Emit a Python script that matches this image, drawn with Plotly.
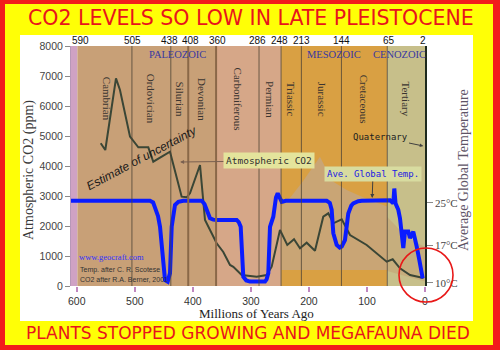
import plotly.graph_objects as go

# ---------------- data ----------------
co2_myr = [558.8, 550.9, 532.5, 525.6, 508.3, 494.0, 476.8, 468.2, 453.7, 439.4, 419.3, 410.6, 405.0,
           387.7, 379.1, 370.5, 359.0, 347.6, 336.0, 330.3, 315.9, 290.0, 272.8, 264.2, 249.9, 237.3,
           225.7, 215.4, 203.9, 189.6, 175.3, 166.6, 158.0, 143.5, 129.2, 100.5, 66.0, 55.7, 43.1,
           25.8, 5.7, 2.6]
co2_ppm = [4757, 4533, 6923, 6533, 4977, 4623, 4623, 4143, 4310, 4477, 2977, 2957, 3090,
           4033, 2200, 1867, 1423, 1133, 700, 640, 367, 310, 367, 643, 1867, 1367,
           1557, 1257, 1443, 1177, 2310, 2423, 2090, 2223, 1700, 1367, 810, 890, 590,
           367, 277, 267]

temp_myr = [610, 473.9, 468.5, 465.3, 460.0, 456.6, 452.0, 448.0, 443.4, 439.4, 436.5, 433.0, 430.8,
            425.0, 416.5, 384.8, 380.0, 376.2, 370.5, 365.0, 359.0, 324.5, 321.0, 317.6, 315.9,
            313.1, 308.0, 301.6, 275.7, 273.0, 270.0, 267.1, 261.4, 256.8, 253.8, 249.9, 246.9,
            240.0, 169.4, 164.0, 160.8, 158.0, 152.2, 147.0, 143.5, 137.9, 132.2, 127.0, 123.6,
            115.0, 109.1, 60.3, 54.6, 52.9, 50.8, 46.0, 43.1, 37.4, 34.5, 28.8, 25.8, 20.2, 17.2,
            14.3, 9.8, 5.7, 4.0]
temp_c = [25.4, 25.4, 25.1, 24.3, 22.5, 20.5, 14.9, 10.5, 10.2, 11.8, 20.5, 23.6, 24.6,
          25.2, 25.4, 25.4, 24.8, 23.7, 22.1, 21.85, 21.8, 21.8, 21.4, 20.5, 14.9,
          11.1, 10.4, 10.2, 10.2, 10.6, 11.8, 20.5, 22.4, 26.0, 26.8, 26.0, 25.2,
          25.4, 25.4, 25.0, 23.7, 19.3, 17.1, 16.6, 16.8, 18.0, 23.0, 24.5, 24.9,
          25.3, 25.4, 25.5, 24.9, 27.7, 24.9, 23.7, 22.1, 16.5, 19.6, 19.6, 18.4, 19.6, 18.3,
          16.8, 14.3, 11.1, 10.8]

# uncertainty band (Mesozoic / Cenozoic shading)
meso_band_myr = [248, 230, 210, 181, 160, 135, 100, 65, 65, 248]
meso_band_ppm = [2650, 3000, 3500, 4310, 3500, 3200, 2900, 2650, 530, 530]
ceno_band_myr = [65, 40, 20, 0, 0, 65]
ceno_band_ppm = [2300, 1800, 1500, 1300, 150, 500]

period_names = ['Cambrian', 'Ordovician', 'Silurian', 'Devonian', 'Carboniferous', 'Permian',
                'Triassic', 'Jurassic', 'Cretaceous', 'Tertiary']
period_start = [590, 505, 438, 408, 360, 286, 248, 213, 144, 65]
period_end = [505, 438, 408, 360, 286, 248, 213, 144, 65, 2]
top_ticks = [590, 505, 438, 408, 360, 286, 248, 213, 144, 65, 2]
era_names = ['PALEOZOIC', 'MESOZOIC', 'CENOZOIC']
era_start = [590, 248, 65]
era_end = [248, 65, 0]
bg_edges = [610, 599, 360, 248, 65, 0]

x_ticks = [600, 500, 400, 300, 200, 100, 0]
co2_ticks = [0, 1000, 2000, 3000, 4000, 5000, 6000, 7000, 8000]
temp_ticks = [10, 17, 25]
temp_tick_text = ['10°C', '17°C', '25°C']

# ---------------- layout helpers ----------------
L, R, T, B = 71, 425, 46, 286
def px_x(p):
    return (p - L) / (R - L)
def px_y(p):
    return (B - p) / (B - T)

SERIF = 'Liberation Serif, Times New Roman, serif'
SANS = 'Liberation Sans, Arial, sans-serif'
MONO = 'DejaVu Sans Mono, monospace'

fig = go.Figure()

# uncertainty band polygons
fig.add_trace(go.Scatter(x=meso_band_myr, y=meso_band_ppm, fill='toself', mode='none',
                         fillcolor='#c9a575', hoverinfo='skip', showlegend=False))
fig.add_trace(go.Scatter(x=ceno_band_myr, y=ceno_band_ppm, fill='toself', mode='none',
                         fillcolor='rgba(196,160,115,0.55)', hoverinfo='skip', showlegend=False))

# CO2 curve
fig.add_trace(go.Scatter(x=co2_myr, y=co2_ppm, mode='lines',
                         line=dict(color='#3a4636', width=2), showlegend=False))
# Temperature curve
fig.add_trace(go.Scatter(x=temp_myr, y=temp_c, mode='lines', yaxis='y2',
                         line=dict(color='#0a1cff', width=4), showlegend=False))

shapes = []
# outer yellow and white panels
shapes.append(dict(type='rect', xref='paper', yref='paper', x0=px_x(5), x1=px_x(493),
                   y0=px_y(345), y1=px_y(4), fillcolor='#ffff06', line=dict(width=0), layer='below'))
shapes.append(dict(type='rect', xref='paper', yref='paper', x0=px_x(20), x1=px_x(473),
                   y0=px_y(321), y1=px_y(35), fillcolor='white', line=dict(width=0), layer='below'))
# background bands
bg_colors = ['#cfa2c4', '#c8a077', '#d6a788', '#d9a043', '#c7bf8a']
for i, c in enumerate(bg_colors):
    shapes.append(dict(type='rect', xref='x', yref='y', x0=bg_edges[i], x1=bg_edges[i + 1],
                       y0=0, y1=8000, fillcolor=c, line=dict(width=0), layer='below'))
# period boundary lines
thick = {408, 360}
for b in period_start[1:]:
    shapes.append(dict(type='line', xref='x', yref='y', x0=b, x1=b, y0=0, y1=8000,
                       line=dict(color='#8a6848' if b in thick else '#4e4436',
                                 width=2 if b in thick else 0.8),
                       layer='above'))
# red circle
shapes.append(dict(type='circle', xref='paper', yref='paper', x0=px_x(399), x1=px_x(453),
                   y0=px_y(302), y1=px_y(248), line=dict(color='#e81818', width=1.6),
                   layer='above'))

ann = []
ann.append(dict(text='CO2 LEVELS SO LOW IN LATE PLEISTOCENE', xref='paper', yref='paper',
                x=px_x(251), y=px_y(18), showarrow=False,
                font=dict(family='DejaVu Sans', size=20.5, color='#e8141c')))
ann.append(dict(text='PLANTS STOPPED GROWING AND MEGAFAUNA DIED', xref='paper', yref='paper',
                x=px_x(248), y=px_y(333), showarrow=False,
                font=dict(family='DejaVu Sans', size=17, color='#e8141c')))
# axis titles
ann.append(dict(text='Atmospheric CO2 (ppm)', xref='paper', yref='paper', x=px_x(29), y=px_y(170),
                textangle=-90, showarrow=False, font=dict(family=SERIF, size=14, color='#3a3a3a')))
ann.append(dict(text='Average Global Temperature', xref='paper', yref='paper', x=px_x(463),
                y=px_y(170), textangle=-90, showarrow=False,
                font=dict(family=SERIF, size=14, color='#5e5466')))
ann.append(dict(text='Millions of Years Ago', xref='paper', yref='paper', x=px_x(256), y=px_y(313),
                showarrow=False, font=dict(family=SERIF, size=13, color='#222')))
# top tick labels
top_shift = {590: -2, 505: 1, 438: -1, 408: 2, 360: 1, 286: -2, 248: -2, 213: 0, 144: 0, 65: 2, 2: -1}
for v in top_ticks:
    ann.append(dict(text=str(v), xref='x', yref='paper', x=v, y=px_y(40), xshift=top_shift[v],
                    showarrow=False, font=dict(family=SANS, size=10, color='#111')))
# period labels
for n, s, e in zip(period_names, period_start, period_end):
    ann.append(dict(text=n, xref='x', yref='y', x=(s + e) / 2, y=6230, textangle=90,
                    showarrow=False, font=dict(family=SERIF, size=11, color='#3a3430')))
# era labels
era_shift = [-4, 0, -7]
for n, s, e, sh in zip(era_names, era_start, era_end, era_shift):
    ann.append(dict(text=n, xref='x', yref='y', x=(s + e) / 2, y=7730, xshift=sh,
                    showarrow=False, font=dict(family=SERIF, size=10.5, color='#3838a0')))
# in-plot notes
ann.append(dict(text='Estimate of uncertainty', xref='x', yref='y', x=488, y=4270, textangle=-28,
                showarrow=False, font=dict(family=SANS, size=12, color='#1a1a1a', style='italic')))
ann.append(dict(text='Atmospheric CO2', xref='x', yref='y', x=422, y=4133, ax=269, ay=4167,
                axref='x', ayref='y', showarrow=True, arrowhead=2, arrowsize=0.8, arrowwidth=1,
                arrowcolor='#7a6050', bgcolor='#e4e49c', borderpad=2,
                font=dict(family=MONO, size=9.5, color='#303030')))
ann.append(dict(text='Ave. Global Temp.', xref='x', yref='y', x=91, y=2933, ax=89.6, ay=3733,
                axref='x', ayref='y', showarrow=True, arrowhead=2, arrowsize=0.8, arrowwidth=1,
                arrowcolor='#404040', bgcolor='#d8dca0', borderpad=2,
                font=dict(family=MONO, size=9, color='#2020e0')))
ann.append(dict(text='Quaternary', xref='x', yref='y', x=3, y=4667, ax=77.5, ay=4967,
                axref='x', ayref='y', showarrow=True, arrowhead=2, arrowsize=0.7, arrowwidth=1,
                arrowcolor='#404040', font=dict(family=MONO, size=9, color='#202020')))
ann.append(dict(text='www.geocraft.com', xref='x', yref='y', x=541, y=967, showarrow=False,
                font=dict(family=SERIF, size=8.5, color='#3030ff')))
ann.append(dict(text='Temp. after C. R. Scotese', xref='x', yref='y', x=598, y=533, xanchor='left',
                showarrow=False, font=dict(family=SANS, size=7, color='#333')))
ann.append(dict(text='CO2 after R.A. Berner, 2001', xref='x', yref='y', x=598, y=233,
                xanchor='left', showarrow=False, font=dict(family=SANS, size=7, color='#333')))

for a in ann:
    a.setdefault('xanchor', 'center')
    a.setdefault('yanchor', 'middle')

fig.update_layout(
    width=500, height=350,
    margin=dict(l=L, r=500 - R, t=T, b=350 - B, pad=0),
    paper_bgcolor='#f21c1c', plot_bgcolor='white',
    shapes=shapes, annotations=ann, showlegend=False,
    xaxis=dict(range=[610, 0], tickvals=x_ticks, ticks='outside', ticklen=5, tickwidth=1.5,
               tickcolor='#c088c0', showgrid=False, zeroline=False, showline=False,
               tickfont=dict(family=SANS, size=10.5, color='#333')),
    yaxis=dict(range=[0, 8000], tickvals=co2_ticks, ticks='outside', ticklen=5, tickcolor='#8a8a8a',
               showgrid=False, zeroline=False, showline=True, linecolor='#b898b8',
               tickfont=dict(family=SANS, size=10.5, color='#444')),
    yaxis2=dict(overlaying='y', side='right', range=[9.37, 54.5], tickvals=temp_ticks,
                ticktext=temp_tick_text, ticks='outside', ticklen=6, tickcolor='#8a8a8a',
                showgrid=False, zeroline=False, showline=True, linecolor='#1e2a1e', linewidth=1.5,
                tickfont=dict(family=SERIF, size=11, color='#444')),
)

fig.write_html('out.html')
